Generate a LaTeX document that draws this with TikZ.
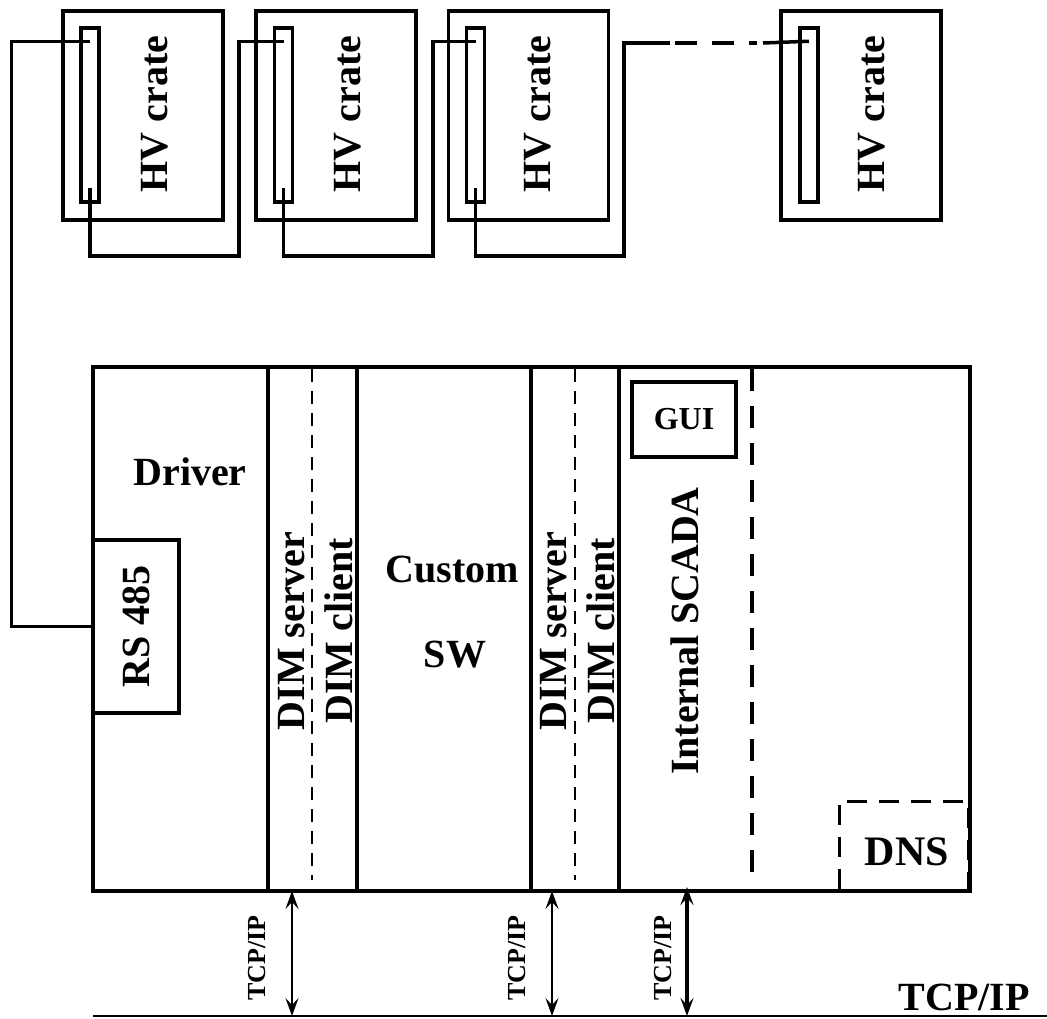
\documentclass[tikz,border=0pt]{standalone}
\usepackage{fontspec}
\setmainfont{Liberation Serif}
\usepackage{tikz}
\usetikzlibrary{arrows.meta}

\begin{document}
\begin{tikzpicture}[
    x=1pt, y=-1pt,
    crate/.style={rectangle, draw, line width=3.5pt, minimum width=160pt, minimum height=209pt, inner sep=0pt},
    slot/.style={rectangle, draw, line width=3.5pt, minimum width=18pt, minimum height=174pt, inner sep=0pt},
    box/.style={rectangle, draw, line width=3.5pt, inner sep=0pt},
    txt/.style={font=\fontsize{40}{44}\selectfont\bfseries, inner sep=0pt},
    vtxt/.style={txt, rotate=90},
    wire/.style={line width=3.5pt},
    sep/.style={line width=3.5pt},
    dimsep/.style={line width=2.8pt, dash pattern=on 13pt off 9pt},
    scadasep/.style={line width=3.2pt, dash pattern=on 22pt off 15pt},
    arr/.style={{Stealth[length=18pt,width=13pt,inset=7pt]}-{Stealth[length=18pt,width=13pt,inset=7pt]}, line width=1.8pt},
    tcp/.style={rotate=90, inner sep=0pt, font=\fontsize{26}{30}\selectfont\bfseries},
]
\useasboundingbox (0,0) rectangle (1047,1018);

% HV crates
\node[crate] (c1) at (143,115.5) {};
\node[crate] (c2) at (336,115.5) {};
\node[crate] (c3) at (528.5,115.5) {};
\node[crate] (c4) at (861,115.5) {};
\node[slot] (s1) at (90,115) {};
\node[slot] (s2) at (283.5,115) {};
\node[slot] (s3) at (475.5,115) {};
\node[slot] (s4) at (809,115) {};
\node[vtxt] (hv1) at (155,114) {HV crate};
\node[vtxt] (hv2) at (348,114) {HV crate};
\node[vtxt] (hv3) at (538,114) {HV crate};
\node[vtxt] (hv4) at (872,114) {HV crate};

% host box
\node[box, minimum width=877pt, minimum height=524pt] (host) at (531.5,629) {};
\foreach \xx in {268,357,531,619}
    \draw[sep] (\xx,367) -- (\xx,891);
\foreach \xx in {312,575}
    \draw[dimsep] (\xx,369) -- (\xx,880);
\draw[scadasep] (752,369) -- (752,880);

\node[box, minimum width=86pt, minimum height=173pt] (rs) at (136,626.5) {};
\node[vtxt] (rslbl) at (rs) {RS 485};
\node[txt] (driver) at (190,472) {Driver};
\node[vtxt] (srv1) at (292,631) {DIM server};
\node[vtxt] (cli1) at (339,631) {DIM client};
\node[txt] (custom) at (452,569) {Custom};
\node[txt] (sw) at (455,655) {SW};
\node[vtxt] (srv2) at (554,631) {DIM server};
\node[vtxt] (cli2) at (601,631) {DIM client};
\node[box, minimum width=104pt, minimum height=75pt] (gui) at (684,419.5) {};
\node[txt, font=\fontsize{32}{36}\selectfont\bfseries] (guilbl) at (gui) {GUI};
\node[vtxt] (scada) at (685,631) {Internal SCADA};
\node[rectangle, draw, line width=3pt, dash pattern=on 20pt off 12pt, minimum width=129pt, minimum height=90pt] (dns) at (903.5,846) {};
\node[txt, font=\fontsize{42}{46}\selectfont\bfseries] (dnslbl) at (907,852) {DNS};

% crate chain
\coordinate (gapL) at (670,43);
\coordinate (dashL) at (675,43);
\coordinate (dashR) at (757,43);
\coordinate (gapR) at (763,43);
\draw[wire] ([yshift=-15pt]s1.north) -| ([xshift=-80pt]rs.west) -- (rs.west);
\draw[wire] ([yshift=16pt]s1.south) |- (239,256) |- ([yshift=-15pt]s2.north);
\draw[wire] ([yshift=16pt]s2.south) |- (433,256) |- ([yshift=-15pt]s3.north);
\draw[wire] ([yshift=16pt]s3.south) |- (624,256) |- (gapL);
\draw[wire, dash pattern=on 22pt off 15pt] (dashL) -- (dashR);
\draw[wire] (gapR) -- ([yshift=-15pt]s4.north);

% network
\coordinate (busW) at (93,1016);
\coordinate (busE) at (1047,1016);
\draw[line width=1.8pt] (busW) -- (busE);
\coordinate (t1) at (292,891);
\coordinate (t2) at (552,891);
\coordinate (t3) at (687,887);
\draw[arr] (t1) -- (t1 |- busW);
\draw[arr] (t2) -- (t2 |- busW);
\draw[arr, line width=3.2pt] (t3) -- (t3 |- busW);
\node[tcp] (tcp1) at (257,958) {TCP/IP};
\node[tcp] (tcp2) at (517,958) {TCP/IP};
\node[tcp] (tcp3) at (663,958) {TCP/IP};
\node[txt] (bus) at (964,997) {TCP/IP};
\end{tikzpicture}
\end{document}
